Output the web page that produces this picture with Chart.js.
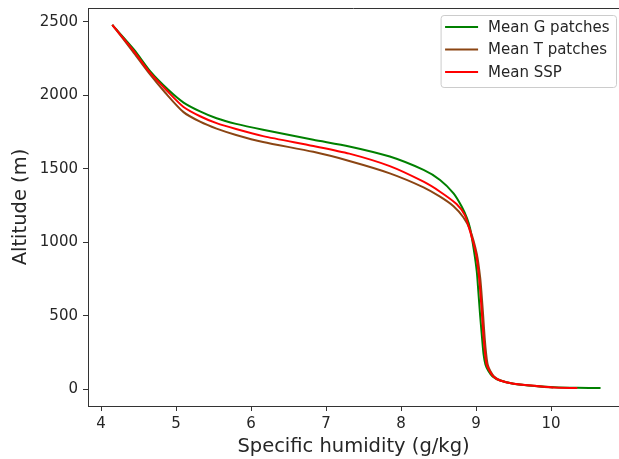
<!DOCTYPE html>
<html>
<head>
<meta charset="utf-8">
<script src="https://cdn.jsdelivr.net/npm/chart.js@4"></script>
<style>
  html, body { margin: 0; padding: 0; background: #fff; overflow: hidden; }
  #wrap { width: 619px; height: 459px; }
</style>
</head>
<body>
<div id="wrap"><canvas id="c" width="619" height="459"></canvas></div>
<script>
// Mean vertical profiles of specific humidity (g/kg) against altitude (m)
const seriesNames = ['Mean G patches', 'Mean T patches', 'Mean SSP'];
const seriesColors = ['#008000', '#8b4513', '#ff0000'];

const gHum = [4.15, 4.44, 4.66, 4.90, 5.10, 5.32, 5.54, 5.80, 6.16, 6.83, 7.31, 7.85, 8.30, 8.52, 8.70, 8.81, 8.88, 8.92, 8.97, 9.01, 9.03, 9.055, 9.08, 9.10, 9.125, 9.165, 9.22, 9.32, 9.50, 9.81, 10.05, 10.35, 10.66];
const gAlt = [2478, 2310, 2160, 2035, 1950, 1890, 1843, 1805, 1765, 1697, 1652, 1583, 1492, 1424, 1333, 1242, 1163, 1095, 950, 800, 670, 500, 350, 240, 170, 125, 88, 60, 39, 23, 15, 11, 9];

const tHum = [4.15, 4.42, 4.64, 4.86, 5.10, 5.32, 5.54, 5.80, 6.16, 6.83, 7.31, 7.85, 8.30, 8.52, 8.70, 8.83, 8.92, 9.01, 9.055, 9.075, 9.095, 9.115, 9.135, 9.155, 9.19, 9.24, 9.33, 9.50, 9.80, 10.03];
const tAlt = [2478, 2300, 2150, 2015, 1885, 1820, 1773, 1730, 1682, 1615, 1553, 1469, 1374, 1310, 1245, 1170, 1085, 920, 760, 640, 500, 350, 240, 170, 125, 88, 60, 39, 22, 12];

const sHum = [4.15, 4.43, 4.65, 4.88, 5.10, 5.32, 5.54, 5.80, 6.16, 6.83, 7.31, 7.85, 8.30, 8.52, 8.74, 8.85, 8.92, 9.00, 9.04, 9.06, 9.08, 9.10, 9.12, 9.14, 9.18, 9.23, 9.32, 9.50, 9.81, 10.03, 10.35];
const sAlt = [2478, 2305, 2155, 2030, 1920, 1857, 1810, 1770, 1722, 1655, 1603, 1518, 1412, 1344, 1260, 1185, 1075, 920, 760, 640, 500, 350, 240, 170, 125, 88, 60, 39, 23, 13, 9];

const xTickValues = [4, 5, 6, 7, 8, 9, 10];
const yTickValues = [0, 500, 1000, 1500, 2000, 2500];

const xTitle = 'Specific humidity (g/kg)';
const yTitle = 'Altitude (m)';

const pairs = (xs, ys) => xs.map((x, i) => ({ x: x, y: ys[i] }));
const profiles = [pairs(gHum, gAlt), pairs(tHum, tAlt), pairs(sHum, sAlt)];

const FONT = 'DejaVu Sans';
const INK = '#262626';

// Top spine plus a boxed legend in the upper-right corner of the axes
const frameAndLegend = {
  id: 'frameAndLegend',
  afterDatasetsDraw(chart) {
    const { ctx, chartArea: a } = chart;
    ctx.save();
    ctx.strokeStyle = '#333';
    ctx.lineWidth = 1;
    ctx.beginPath();
    ctx.moveTo(a.left, a.top + 0.5);
    ctx.lineTo(a.right, a.top + 0.5);
    ctx.stroke();

    ctx.font = '15px "' + FONT + '"';
    const textW = Math.max(...chart.data.datasets.map(d => ctx.measureText(d.label).width));
    const right = a.right - 2.5;
    const top = a.top + 7.5;
    const w = 4 + 33 + 10 + textW + 7;
    const h = 72;
    const left = right - w;
    ctx.fillStyle = 'rgba(255,255,255,0.8)';
    ctx.strokeStyle = '#cccccc';
    ctx.beginPath();
    ctx.roundRect(left, top, w, h, 3);
    ctx.fill();
    ctx.stroke();

    chart.data.datasets.forEach((d, i) => {
      const y = top + 11.5 + i * 22.5;
      ctx.strokeStyle = d.borderColor;
      ctx.lineWidth = 2;
      ctx.beginPath();
      ctx.moveTo(left + 4, y);
      ctx.lineTo(left + 37, y);
      ctx.stroke();
      ctx.fillStyle = INK;
      ctx.textBaseline = 'middle';
      ctx.textAlign = 'left';
      ctx.fillText(d.label, left + 47, y + 1);
    });
    ctx.restore();
  }
};

const axisCommon = {
  type: 'linear',
  grid: { drawOnChartArea: false, drawTicks: true, tickLength: 5, tickColor: '#333', color: '#333' },
  border: { display: true, color: '#333', width: 1 },
  ticks: { color: INK, padding: 5, font: { family: FONT, size: 15 }, callback: v => String(v) }
};

new Chart(document.getElementById('c'), {
  type: 'scatter',
  data: {
    datasets: profiles.map((pts, i) => ({
      label: seriesNames[i],
      data: pts,
      showLine: true,
      borderColor: seriesColors[i],
      backgroundColor: seriesColors[i],
      borderWidth: 2,
      pointRadius: 0,
      tension: 0.25,
      order: 2 - i
    }))
  },
  options: {
    responsive: false,
    animation: false,
    devicePixelRatio: 1,
    layout: { padding: { top: 8, right: 0, bottom: 0, left: 0 } },
    plugins: { legend: { display: false }, tooltip: { enabled: false } },
    scales: {
      x: {
        ...axisCommon,
        min: 3.826,
        max: 10.906,
        ticks: { ...axisCommon.ticks, padding: 4 },
        afterBuildTicks(scale) { scale.ticks = xTickValues.map(v => ({ value: v })); },
        title: { display: true, text: xTitle, color: INK, font: { family: FONT, size: 19.5 }, padding: { top: 0, bottom: 0 } },
        afterFit(scale) { scale.height = 53; scale.paddingLeft = 0; scale.paddingRight = 0; }
      },
      y: {
        ...axisCommon,
        min: -113,
        max: 2593,
        afterBuildTicks(scale) { scale.ticks = yTickValues.map(v => ({ value: v })); },
        title: { display: true, text: yTitle, color: INK, font: { family: FONT, size: 19.5 }, padding: { top: 9, bottom: 0 } },
        afterFit(scale) { scale.width = 88; scale.paddingTop = 0; scale.paddingBottom = 0; }
      }
    }
  },
  plugins: [frameAndLegend]
});
</script>
</body>
</html>
